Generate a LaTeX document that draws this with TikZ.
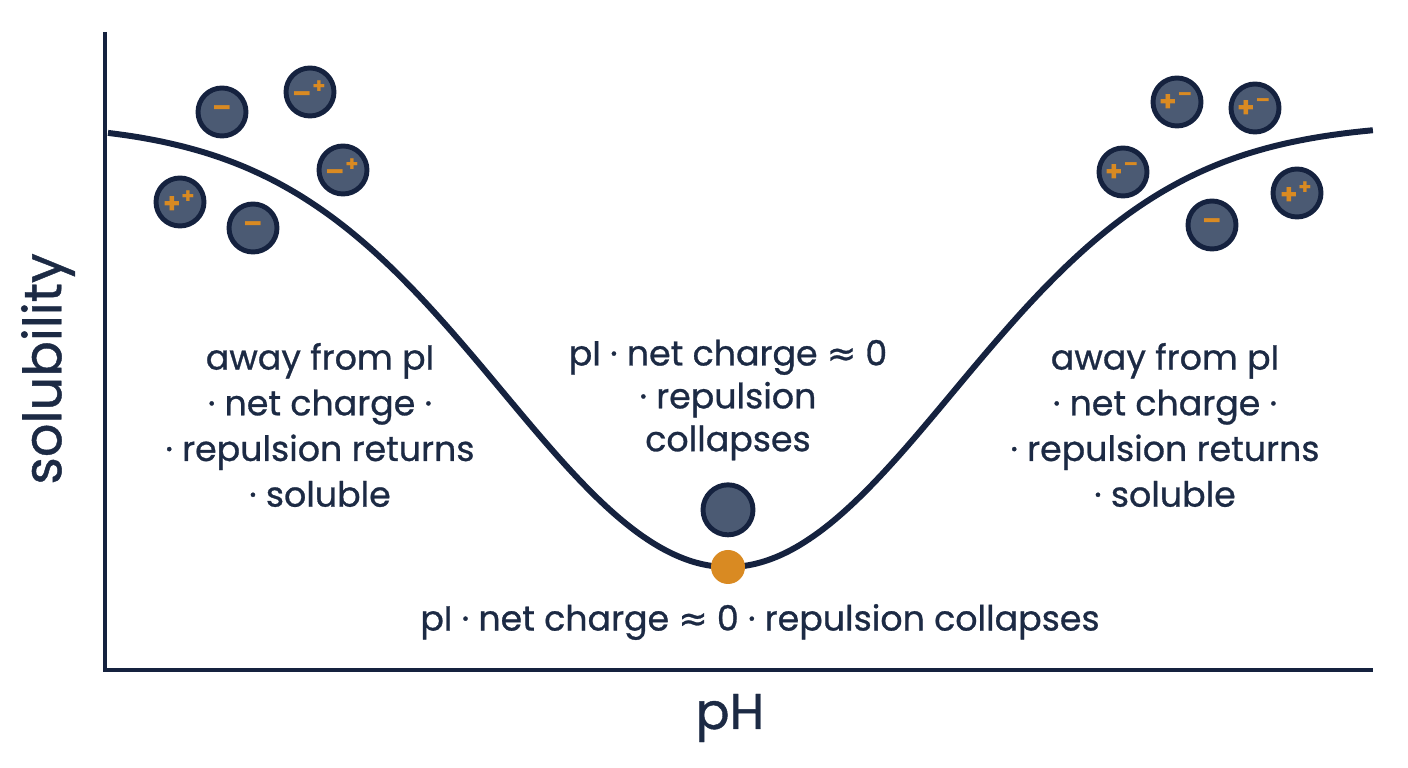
\documentclass[tikz,border=0pt]{standalone}
\usepackage{fontspec}
\setmainfont{Poppins}
\newfontfamily\medfont{Poppins}[FakeBold=0.8]
\newfontfamily\symfont{DejaVu Sans}[FakeBold=0.8]
\usepackage{tikz}
\usetikzlibrary{positioning}
\usetikzlibrary{calc}
\definecolor{navy}{HTML}{15223F}
\definecolor{ionfill}{HTML}{4B5A73}
\definecolor{pumpkin}{HTML}{D98A22}
\definecolor{inkblue}{HTML}{1C2A44}
\tikzstyle{ion} = [circle, draw = navy, line width = 1.4pt, fill = ionfill, minimum size = 0.48cm, inner sep = 0pt, text = pumpkin, font = \fontsize{8}{8}\selectfont\bfseries]
\tikzstyle{label} = [align = center, text = inkblue, font = \fontsize{9.9}{13}\selectfont\medfont]
\tikzstyle{axis} = [draw = navy, line width = 1.3pt]
\newcommand{\chgneg}{\textendash}
\newcommand{\chgnegpos}{\textendash\textsuperscript{+}}
\newcommand{\chgpospos}{+\textsuperscript{+}}
\newcommand{\chgposneg}{+\textsuperscript{\textendash}}
\newcommand{\approxsym}{{\symfont ≈}}

\begin{document}
\begin{tikzpicture}
	\useasboundingbox (0,0) rectangle (14.08,7.68);
	
	% Axes
	\coordinate (origin) at (1.05,0.98);
	\coordinate (ytop) at (1.05,7.36);
	\coordinate (xend) at (13.73,0.98);
	\draw[axis] (ytop) -- (origin) -- (xend);
	\node[text = inkblue, font = \fontsize{14.3}{14.3}\selectfont\medfont] (phlabel) at (7.30,0.50) {pH};
	\node[text = inkblue, font = \fontsize{15}{15}\selectfont\medfont, rotate = 90] (sollabel) at (0.48,3.99) {solubility};
	
	% Solubility curve
	\draw[navy, line width = 1.7pt, smooth, samples = 120, domain = 1.08:13.73]
	plot (\x, {6.45 - 4.44*exp(-1*pow((\x-7.28)/3.18,2))});
	
	% Minimum at pI
	\node[circle, fill = pumpkin, minimum size = 0.34cm, inner sep = 0pt] (pidot) at (7.28,2.01) {};
	\node[ion, minimum size = 0.50cm, above = 0.12 cm of pidot] (aggregate) {};
	
	% Ions, low pH side
	\node[ion] (l1) at (2.22,6.56) {\chgneg};
	\node[ion] (l2) at (3.10,6.76) {\chgnegpos};
	\node[ion] (l3) at (3.43,5.98) {\chgnegpos};
	\node[ion] (l4) at (1.80,5.66) {\chgpospos};
	\node[ion] (l5) at (2.53,5.40) {\chgneg};
	
	% Ions, high pH side
	\node[ion] (r1) at (11.77,6.66) {\chgposneg};
	\node[ion] (r2) at (12.55,6.60) {\chgposneg};
	\node[ion] (r3) at (11.23,5.96) {\chgposneg};
	\node[ion] (r4) at (12.12,5.43) {\chgneg};
	\node[ion] (r5) at (12.97,5.75) {\chgpospos};
	
	% Region labels
	\node[label] (lefttext) at (3.20,3.43) {away from pI\\ · net charge ·\\ · repulsion returns\\ · soluble};
	\node[label, font = \fontsize{9.9}{12.2}\selectfont\medfont] (midtext) at (7.28,3.68) {pI · net charge \approxsym{} 0\\ · repulsion\\ collapses};
	\node[label] (righttext) at (11.65,3.43) {away from pI\\ · net charge ·\\ · repulsion returns\\ · soluble};
	\node[label] (bottomtext) at (7.60,1.46) {pI · net charge \approxsym{} 0 · repulsion collapses};
	
\end{tikzpicture}
\end{document}
